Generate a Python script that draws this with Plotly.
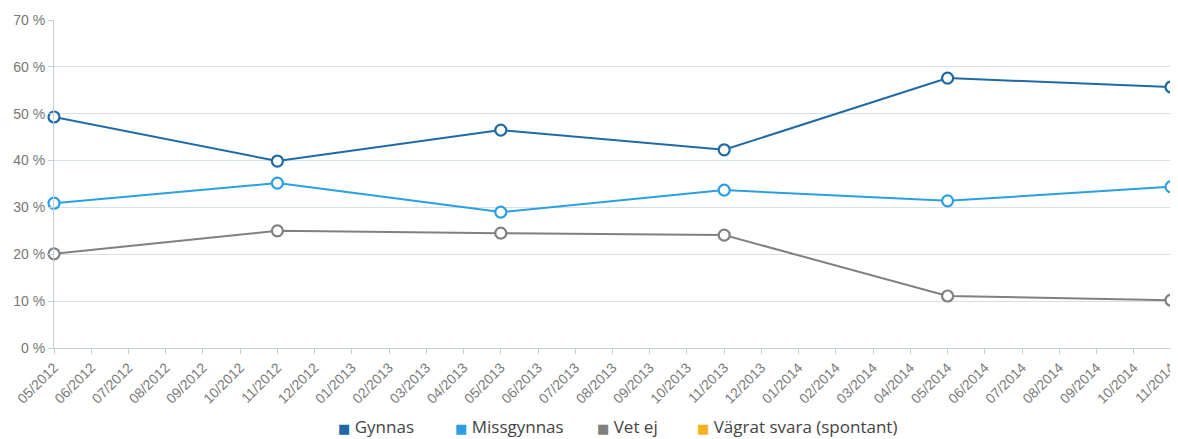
import plotly.graph_objects as go

months = [f"{m:02d}/{y}" for y, ms in [(2012, range(5, 13)), (2013, range(1, 13)), (2014, range(1, 12))] for m in ms]
survey_months = ["05/2012", "11/2012", "05/2013", "11/2013", "05/2014", "11/2014"]
gynnas = [49.3, 39.9, 46.5, 42.3, 57.6, 55.7]
missgynnas = [30.9, 35.2, 29.0, 33.7, 31.4, 34.4]
vet_ej = [20.1, 25.0, 24.5, 24.1, 11.1, 10.2]
series_names = ["Gynnas", "Missgynnas", "Vet ej", "Vägrat svara (spontant)"]
colors = ["#1f6aa5", "#2a9fe6", "#808080", "#f7b21e"]
y_ticks = [0, 10, 20, 30, 40, 50, 60, 70]
y_ticktext = [f"{v} %" for v in y_ticks]

# page body has an 8px margin; figure placed so the plot area lands at x 54..1171, y 20..348
OFF = 8
W, H = 1178 - OFF, 439 - OFF
L, R, T, B = 54 - OFF, 7, 20 - OFF, 91
pw, ph = W - L - R, H - T - B

fig = go.Figure()
for name, vals, col in zip(series_names[:3], [gynnas, missgynnas, vet_ej], colors[:3]):
    fig.add_trace(go.Scatter(
        x=survey_months, y=vals, mode="lines+markers", name=name, showlegend=False,
        line=dict(color=col, width=2),
        marker=dict(symbol="circle", size=11, color="white", line=dict(color=col, width=2.2)),
        cliponaxis=False,
    ))

# legend built as text annotations (compact symbol-to-text spacing like reference)
legend_px = [336, 453, 595, 695]
legend_cy = 427
for name, col, px in zip(series_names, colors, legend_px):
    fig.add_annotation(
        x=(px - 54) / pw, y=(348 - legend_cy) / ph, xref="paper", yref="paper",
        xanchor="left", yanchor="middle", showarrow=False,
        text=f"<span style='color:{col}; font-family:DejaVu Sans; font-size:13px'>■</span> {name}",
        font=dict(family="Open Sans, sans-serif", size=17, color="#444444"),
    )

fig.update_layout(
    width=W, height=H,
    margin=dict(l=L, r=R, t=T, b=B),
    paper_bgcolor="white", plot_bgcolor="white",
    font=dict(family="Liberation Sans, Arial, sans-serif", color="#777777", size=13),
    showlegend=False,
)
fig.update_xaxes(
    type="category", categoryorder="array", categoryarray=months,
    tickvals=months, ticktext=months, automargin=False,
    range=[0, len(months) - 1], tickangle=-45,
    showgrid=False, showline=True, linecolor="#c3ced8", linewidth=1,
    ticks="outside", ticklen=5, tickcolor="#c3ced8",
    tickfont=dict(size=14, color="#7a7a7a"),
)
fig.update_yaxes(
    range=[0, 70], tickvals=y_ticks, ticktext=y_ticktext, automargin=False,
    showgrid=True, gridcolor="#d5dfe6", gridwidth=1,
    showline=True, linecolor="#c3ced8", linewidth=1,
    ticks="outside", ticklen=5, tickcolor="#c3ced8",
    zeroline=False,
    tickfont=dict(size=14, color="#777777"),
)
fig.write_html("out.html")
